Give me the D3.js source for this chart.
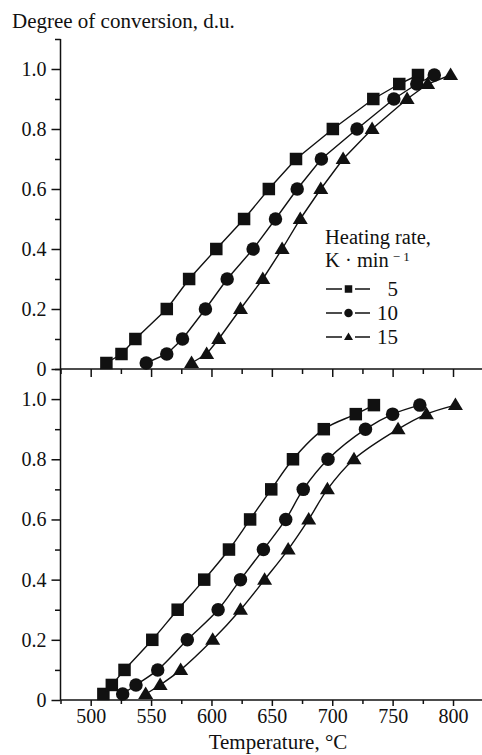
<!DOCTYPE html>
<html>
<head>
<meta charset="utf-8">
<script src="https://cdn.jsdelivr.net/npm/d3@7"></script>
<style>
  body { margin: 0; background: #fff; }
  svg { display: block; }
  svg text { font-family: 'Liberation Serif', 'DejaVu Serif', serif; fill: #111; }
  .axis path, .axis line { stroke: #111; }
  .axis text { font-size: 20px; }
</style>
</head>
<body>
<div id="graphics"></div>
<script>
// values: temperature (°C) per degree of conversion
const levels = [0.02, 0.05, 0.1, 0.2, 0.3, 0.4, 0.5, 0.6, 0.7, 0.8, 0.9, 0.95, 0.98];

// upper panel
const topRate5 = [513, 525.5, 537, 563, 581.5, 604, 627, 647.5, 670, 700.5, 734, 755.5, 771];
const topRate10 = [546, 563, 576, 595, 613, 634.5, 653, 671, 691, 720.5, 751, 770, 784.5];
const topRate15 = [583.5, 596, 606, 624, 642.5, 658.5, 673.5, 690.5, 709, 733, 762, 779, 798];

// lower panel
const botRate5 = [510.5, 517.5, 528, 551, 572, 594, 614.5, 632, 649.5, 667.5, 693, 719.5, 734.5];
const botRate10 = [526.5, 537.5, 555.5, 580, 605.5, 624, 643, 661.5, 676, 696.5, 727.5, 750, 772.5];
const botRate15 = [545.5, 557.5, 574.5, 601, 624, 644, 663.5, 680.5, 696, 718, 754.5, 778, 802];

const rates = ['5', '10', '15'];
const shapes = ['square', 'circle', 'triangle'];

const xTicks = [500, 550, 600, 650, 700, 750, 800];
const xMinorTicks = [475, 525, 575, 625, 675, 725, 775, 825];
const yTicks = [0, 0.2, 0.4, 0.6, 0.8, 1.0];
const yMinorTicks = [0.1, 0.3, 0.5, 0.7, 0.9, 1.1];

const W = 482, H = 755;
const svg = d3.select('#graphics').append('svg').attr('width', W).attr('height', H);

const xScale = d3.scaleLinear().domain([475, 824]).range([60.5, 482]);

const panels = [
  { series: [topRate5, topRate10, topRate15], y0: 369, y1: 39, curve: d3.curveLinear, labels: false, major: 8, minor: 5 },
  { series: [botRate5, botRate10, botRate15], y0: 700, y1: 369, curve: d3.curveCatmullRom, labels: true, major: 6, minor: 4 }
];

function drawMarker(g, shape, cx, cy, s) {
  if (shape === 'square') {
    g.append('rect').attr('x', cx - s / 2).attr('y', cy - s / 2)
      .attr('width', s).attr('height', s).attr('fill', '#111');
  } else if (shape === 'circle') {
    g.append('circle').attr('cx', cx).attr('cy', cy).attr('r', s / 2 + 0.5).attr('fill', '#111');
  } else {
    const w = s * 1.2, h = s;
    g.append('path')
      .attr('d', `M${cx},${cy - h * 0.6}L${cx + w / 2},${cy + h * 0.4}L${cx - w / 2},${cy + h * 0.4}Z`)
      .attr('fill', '#111');
  }
}

panels.forEach((p) => {
  const yScale = d3.scaleLinear().domain([0, 1.1]).range([p.y0, p.y1]);
  const g = svg.append('g');

  // y axis
  g.append('g').attr('class', 'axis')
    .attr('transform', 'translate(60.5,0)')
    .call(d3.axisLeft(yScale).tickValues(yTicks).tickSize(9).tickPadding(5)
      .tickFormat((d) => (d === 0 ? '0' : d3.format('.1f')(d))))
    .call((a) => a.selectAll('path,line').attr('stroke-width', 1.5))
    .call((a) => a.select('.domain').attr('d', `M0,${p.y0}V${p.y1}`));
  g.append('g').attr('class', 'axis')
    .attr('transform', 'translate(60.5,0)')
    .call(d3.axisLeft(yScale).tickValues(yMinorTicks).tickSize(5.5).tickFormat(''))
    .call((a) => a.selectAll('line').attr('stroke-width', 1.5))
    .call((a) => a.select('.domain').remove());

  // x axis
  g.append('g').attr('class', 'axis')
    .attr('transform', `translate(0,${p.y0})`)
    .call(d3.axisBottom(xScale).tickValues(xTicks).tickSize(p.major).tickPadding(3)
      .tickFormat(p.labels ? d3.format('d') : ''))
    .call((a) => a.selectAll('path,line').attr('stroke-width', 1.5))
    .call((a) => a.select('.domain').attr('d', 'M60.5,0H482'));
  g.append('g').attr('class', 'axis')
    .attr('transform', `translate(0,${p.y0})`)
    .call(d3.axisBottom(xScale).tickValues(xMinorTicks).tickSize(p.minor).tickFormat(''))
    .call((a) => a.selectAll('line').attr('stroke-width', 1.5))
    .call((a) => a.select('.domain').remove());

  const line = d3.line()
    .x((d) => xScale(d[0]))
    .y((d) => yScale(d[1]))
    .curve(p.curve);

  p.series.forEach((temps, i) => {
    const pts = temps.map((t, j) => [t, levels[j]]);
    g.append('path').datum(pts)
      .attr('d', line)
      .attr('fill', 'none')
      .attr('stroke', '#111')
      .attr('stroke-width', 1.4);
    const mg = g.append('g');
    pts.forEach((d) => drawMarker(mg, shapes[i], xScale(d[0]), yScale(d[1]), 12.5));
  });
});

// titles
svg.append('text')
  .attr('x', 12).attr('y', 28)
  .attr('font-size', 21)
  .text('Degree of conversion, d.u.');

svg.append('text')
  .attr('x', 278).attr('y', 749)
  .attr('text-anchor', 'middle')
  .attr('font-size', 21)
  .text('Temperature, °C');

// legend heading
const legend = svg.append('g');
legend.append('text').attr('x', 325).attr('y', 243.5).attr('font-size', 20.5)
  .text('Heating rate,');
const kt = legend.append('text').attr('x', 325).attr('y', 266.5).attr('font-size', 20.5);
kt.append('tspan').text('K · min');
kt.append('tspan').attr('dx', 4).attr('dy', -5.5).attr('font-size', 13).text('− 1');

rates.forEach((r, i) => {
  const cy = 289 + i * 24;
  legend.append('line').attr('x1', 326).attr('x2', 342).attr('y1', cy).attr('y2', cy)
    .attr('stroke', '#111').attr('stroke-width', 1.5);
  legend.append('line').attr('x1', 355).attr('x2', 370).attr('y1', cy).attr('y2', cy)
    .attr('stroke', '#111').attr('stroke-width', 1.5);
  drawMarker(legend, shapes[i], 348.5, cy, 7.5);
  legend.append('text').attr('x', 398).attr('y', cy + 6.5)
    .attr('text-anchor', 'end').attr('font-size', 21)
    .text(r);
});
</script>
</body>
</html>
